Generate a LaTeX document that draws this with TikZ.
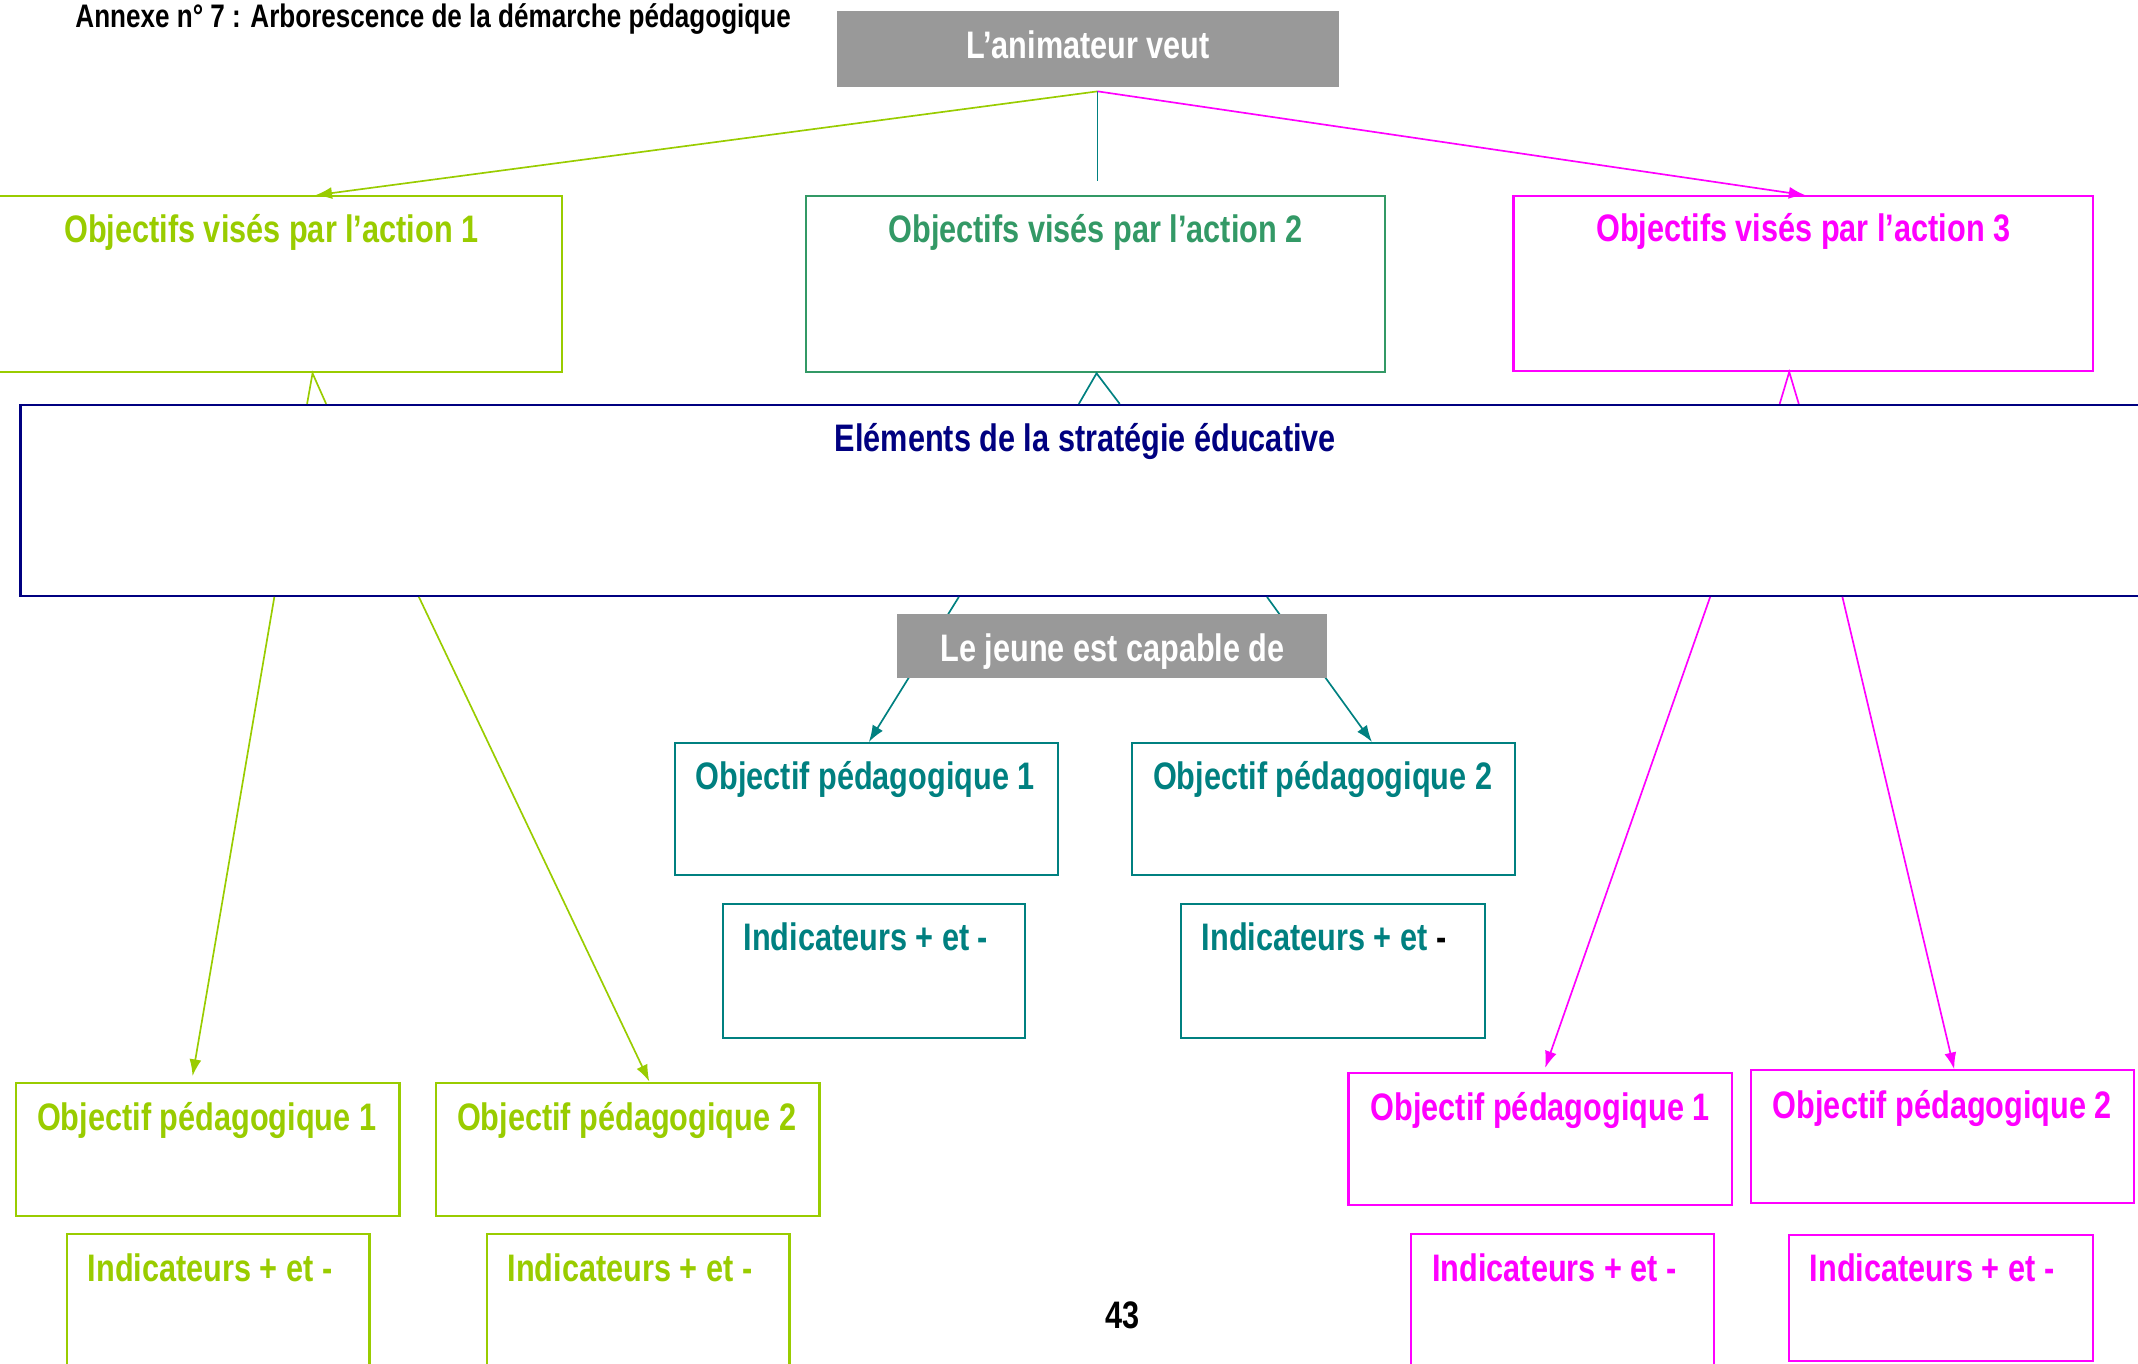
\documentclass[tikz,border=0pt]{standalone}
\usepackage{fontspec}
\newfontfamily\nar[FakeStretch=0.8]{Liberation Sans Bold}
\usetikzlibrary{arrows.meta,calc,fit}
\definecolor{cgreen}{HTML}{99CC00}
\definecolor{cgreenb}{HTML}{339966}
\definecolor{cmag}{HTML}{FF00FF}
\definecolor{cnavy}{HTML}{000080}
\definecolor{cteal}{HTML}{008080}
\definecolor{cgray}{HTML}{999999}
\begin{document}
\begin{tikzpicture}[x=0.02cm,y=-0.02cm,
  box/.style={draw=#1, line width=0.9pt, inner sep=0pt},
  gbox/.style={fill=cgray, draw=none, inner sep=0pt},
  lbl/.style={font=\nar\fontsize{16}{19}\selectfont, text=#1, anchor=base, inner sep=0pt},
  lbll/.style={font=\nar\fontsize{16}{19}\selectfont, text=#1, anchor=base west, inner sep=0pt},
  conn/.style={draw=#1, line width=0.7pt},
  arr/.style={draw=#1, line width=0.7pt, -{Latex[length=7pt,width=5pt]}}]
\useasboundingbox (0,0) rectangle (1568,1000);
\clip (0,0) rectangle (1568,1000);

% title
\node[font=\nar\fontsize{13.6}{16}\selectfont, anchor=base west, inner sep=0pt] (title) at (55,20) {Annexe n° 7 : Arborescence de la démarche pédagogique};

% top gray box
\node[gbox, fit={(614,8) (982,64)}] (anim) {};
\node[lbl=white] (animt) at (798,43) {L’animateur veut};

% action boxes
\node[box=cgreen, fit={(-14,144) (412,273)}] (a1) {};
\node[lbl=cgreen] (a1t) at (199,178) {Objectifs visés par l’action 1};
\node[box=cgreenb, fit={(591,144) (1016,273)}] (a2) {};
\node[lbl=cgreenb] (a2t) at (803.5,178) {Objectifs visés par l’action 2};
\node[box=cmag, fit={(1110,144) (1535,272)}] (a3) {};
\node[lbl=cmag] (a3t) at (1322.5,177) {Objectifs visés par l’action 3};

% big box
\node[box=cnavy, fit={(15,297) (1577,437)}] (big) {};
\node[lbl=cnavy] (bigt) at (796,331) {Eléments de la stratégie éducative};

% connectors from top
\coordinate (hub) at (805,67);
\coordinate (a2in) at (805,133);
\draw[arr=cgreen] (hub) -- ($(a1.north west)+(246,0)$);
\draw[conn=cteal] (hub) -- (a2in);
\draw[arr=cmag] (hub) -- ($(a3.north west)+(215,0)$);

% tent connectors between action boxes and big box
\draw[conn=cgreen] ($(big.north west)+(211,0)$) -- ($(a1.south west)+(244,0)$) -- ($(big.north west)+(225,0)$);
\draw[conn=cteal] ($(big.north west)+(777,0)$) -- ($(a2.south west)+(214,0)$) -- ($(big.north west)+(807,0)$);
\draw[conn=cmag] ($(big.north west)+(1291,0)$) -- ($(a3.south west)+(203,0)$) -- ($(big.north west)+(1305,0)$);

% teal objectives
\node[box=cteal, fit={(495,545) (776,642)}] (t1) {};
\node[lbl=cteal] (t1t) at (634.5,579) {Objectif pédagogique 1};
\node[box=cteal, fit={(830,545) (1111,642)}] (t2) {};
\node[lbl=cteal] (t2t) at (970,579) {Objectif pédagogique 2};
\node[box=cteal, fit={(530,663) (752,761)}] (ti1) {};
\node[lbll=cteal] (ti1t) at (545,697) {Indicateurs + et -};
\node[box=cteal, fit={(866,663) (1089,761)}] (ti2) {};
\node[lbll=cteal] (ti2t) at (881,697) {Indicateurs + et \textcolor{black}{-}};

% green objectives
\node[box=cgreen, fit={(12,794) (293,892)}] (g1) {};
\node[lbl=cgreen] (g1t) at (151.5,829) {Objectif pédagogique 1};
\node[box=cgreen, fit={(320,794) (601,892)}] (g2) {};
\node[lbl=cgreen] (g2t) at (459.5,829) {Objectif pédagogique 2};
\node[box=cgreen, fit={(49,905) (271,1012)}] (gi1) {};
\node[lbll=cgreen] (gi1t) at (64,940) {Indicateurs + et -};
\node[box=cgreen, fit={(357,905) (579,1012)}] (gi2) {};
\node[lbll=cgreen] (gi2t) at (372,940) {Indicateurs + et -};

% magenta objectives
\node[box=cmag, fit={(989,787) (1270,884)}] (m1) {};
\node[lbl=cmag] (m1t) at (1129.5,822) {Objectif pédagogique 1};
\node[box=cmag, fit={(1284,785) (1565,882)}] (m2) {};
\node[lbl=cmag] (m2t) at (1424.5,820) {Objectif pédagogique 2};
\node[box=cmag, fit={(1035,905) (1257,1012)}] (mi1) {};
\node[lbll=cmag] (mi1t) at (1050,940) {Indicateurs + et -};
\node[box=cmag, fit={(1312,906) (1535,998)}] (mi2) {};
\node[lbll=cmag] (mi2t) at (1327,940) {Indicateurs + et -};

% connectors from big box
\draw[arr=cgreen] ($(big.south west)+(187,0)$) -- ($(g1.north west)+(130,-4)$);
\draw[arr=cgreen] ($(big.south west)+(293,0)$) -- ($(g2.north west)+(157,0)$);
\draw[arr=cteal] ($(big.south west)+(689,0)$) -- ($(t1.north west)+(143,0)$);
\draw[arr=cteal] ($(big.south west)+(915,0)$) -- ($(t2.north west)+(177,0)$);
\draw[arr=cmag] ($(big.south west)+(1240,0)$) -- ($(m1.north west)+(145,-3)$);
\draw[arr=cmag] ($(big.south west)+(1337,0)$) -- ($(m2.north west)+(150,0)$);

% middle gray box (over the teal lines)
\node[gbox, fit={(658,450) (973,497)}] (jeune) {};
\node[lbl=white] (jeunet) at (816,485) {Le jeune est capable de};

% page number
\node[lbl=black] (page) at (823,974) {43};
\end{tikzpicture}
\end{document}
